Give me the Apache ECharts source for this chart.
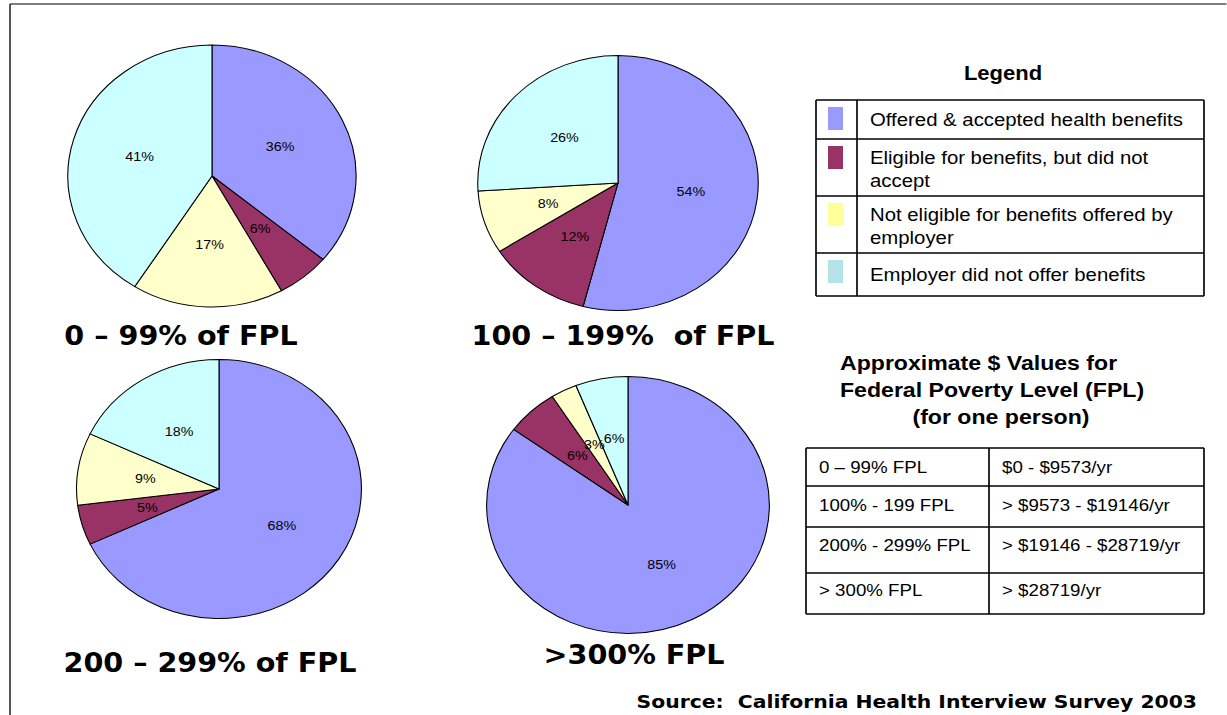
<!DOCTYPE html>
<html>
<head>
<meta charset="utf-8">
<script src="https://cdn.jsdelivr.net/npm/echarts@6/dist/echarts.min.js"></script>
<style>
  html, body { margin: 0; padding: 0; background: #fff; overflow: hidden; }
  #main { width: 1115.45px; height: 715px; transform: scaleX(1.1); transform-origin: 0 0; }
</style>
</head>
<body>
<div id="main"></div>
<script>
// ---------- data ----------
const categories = [
  'Offered & accepted health benefits',
  'Eligible for benefits, but did not accept',
  'Not eligible for benefits offered by employer',
  'Employer did not offer benefits'
];
const legendLabels = [
  'Offered & accepted health benefits',
  'Eligible for benefits, but did not\naccept',
  'Not eligible for benefits offered by\nemployer',
  'Employer did not offer benefits'
];
const groupTitles = ['0 – 99% of FPL', '100 – 199%  of FPL', '200 – 299% of FPL', '>300% FPL'];
const values0to99 = [36, 6, 17, 41];
const values100to199 = [54, 12, 8, 26];
const values200to299 = [68, 5, 9, 18];
const values300plus = [85, 6, 3, 6];
const fplRanges = ['0 – 99% FPL', '100% - 199 FPL', '200% - 299% FPL', '> 300% FPL'];
const fplDollars = ['$0 - $9573/yr', '> $9573 - $19146/yr', '> $19146 - $28719/yr', '> $28719/yr'];
const tableHeading = ['Approximate $ Values for', 'Federal Poverty Level (FPL)', '(for one person)'];
const sourceText = 'Source:  California Health Interview Survey 2003';

// ---------- styling ----------
const SX = 1.1;
const X = v => v / SX;
const sliceColors = ['#9999FF', '#993366', '#FFFFCC', '#CCFFFF'];
const swatchColors = ['#9999FF', '#993366', '#FFFF99', '#B3E3E6'];
const ARIAL = '"Liberation Sans", Arial, sans-serif';
const VERD = '"DejaVu Sans", Verdana, sans-serif';

const pieLayout = [
  { cx: 212, cy: 176, r: 131, values: values0to99 },
  { cx: 618, cy: 183, r: 127.5, values: values100to199 },
  { cx: 219, cy: 489, r: 129.5, values: values200to299 },
  { cx: 628, cy: 505, r: 128.5, values: values300plus }
];

const series = pieLayout.map((p, k) => ({
  type: 'pie',
  name: groupTitles[k],
  center: [X(p.cx), p.cy],
  radius: p.r,
  startAngle: 90,
  clockwise: true,
  silent: true,
  animation: false,
  avoidLabelOverlap: false,
  minShowLabelAngle: 0,
  labelLayout: { hideOverlap: false },
  data: categories.map((c, i) => ({ name: c, value: p.values[i], itemStyle: { color: sliceColors[i] } })),
  itemStyle: { borderColor: '#000', borderWidth: 1 },
  label: {
    show: true, position: 'inside', formatter: '{c}%',
    color: '#000', fontSize: 13, fontFamily: ARIAL, textBorderWidth: 0
  },
  labelLine: { show: false },
  emphasis: { disabled: true }
}));

const g = [];
function text(x, y, str, font, align, extra) {
  g.push(Object.assign({
    type: 'text', x: X(x), y: y, silent: true,
    style: Object.assign({ text: str, font: font, fill: '#000', textAlign: align || 'left', textVerticalAlign: 'middle' }, extra || {})
  }));
}
function line(x1, y1, x2, y2, w) {
  g.push({ type: 'line', silent: true, shape: { x1: X(x1), y1: y1, x2: X(x2), y2: y2 }, style: { stroke: '#000', lineWidth: w || 1.5 } });
}
function rect(x, y, w, h, fill) {
  g.push({ type: 'rect', silent: true, shape: { x: X(x), y: y, width: w / SX, height: h }, style: { fill: fill, stroke: null } });
}

// frame
line(10, 4, 10, 715, 1.2);
line(10, 4, 1227, 4, 1.2);

// pie titles
const titlePos = [[181, 336], [623, 336], [210, 663], [634, 655]];
groupTitles.forEach((t, i) => text(titlePos[i][0], titlePos[i][1], t, 'bold 26px ' + VERD, 'center'));

// legend
text(1003, 73, 'Legend', 'bold 20px ' + ARIAL, 'center');
const rowY = [100, 139, 196, 253, 296];
const lx0 = 816, lx1 = 857, lx2 = 1204;
for (let i = 0; i < 4; i++) {
  rect(828, rowY[i] + 7, 15, 23, swatchColors[i]);
  const lines = legendLabels[i].split('\n');
  if (lines.length === 1) {
    text(870, (rowY[i] + rowY[i + 1]) / 2, lines[0], '18.5px ' + ARIAL, 'left');
  } else {
    text(870, rowY[i] + 18, lines[0], '18.5px ' + ARIAL, 'left');
    text(870, rowY[i] + 41, lines[1], '18.5px ' + ARIAL, 'left');
  }
}
rowY.forEach(y => line(lx0, y, lx2, y));
line(lx0, rowY[0], lx0, rowY[4]);
line(lx1, rowY[0], lx1, rowY[4]);
line(lx2, rowY[0], lx2, rowY[4]);

// FPL table
text(840, 363, tableHeading[0], 'bold 21px ' + ARIAL, 'left');
text(840, 390, tableHeading[1], 'bold 21px ' + ARIAL, 'left');
text(1001, 417, tableHeading[2], 'bold 21px ' + ARIAL, 'center');
const tY = [448, 486, 527, 573, 614];
const textY = [467, 505, 545, 590];
const tx0 = 806, tx1 = 989, tx2 = 1204;
for (let i = 0; i < 4; i++) {
  text(819, textY[i], fplRanges[i], '17px ' + ARIAL, 'left');
  text(1002, textY[i], fplDollars[i], '17px ' + ARIAL, 'left');
}
tY.forEach(y => line(tx0, y, tx2, y));
line(tx0, tY[0], tx0, tY[4]);
line(tx1, tY[0], tx1, tY[4]);
line(tx2, tY[0], tx2, tY[4]);

// source
text(1197, 702, sourceText, 'bold 18.5px ' + VERD, 'right');

const chart = echarts.init(document.getElementById('main'), null, { renderer: 'svg' });
chart.setOption({
  backgroundColor: '#fff',
  animation: false,
  series: series,
  graphic: g
});
</script>
</body>
</html>
